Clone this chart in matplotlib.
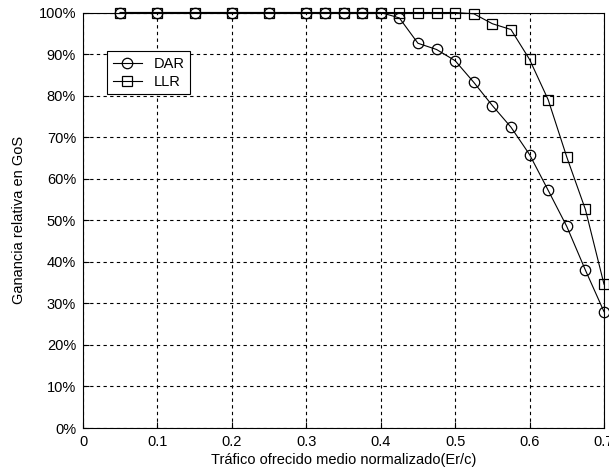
import matplotlib
matplotlib.use("Agg")
import matplotlib.pyplot as plt
from matplotlib.ticker import FuncFormatter

x = [0.05, 0.1, 0.15, 0.2, 0.25, 0.3, 0.325, 0.35, 0.375, 0.4, 0.425, 0.45,
     0.475, 0.5, 0.525, 0.55, 0.575, 0.6, 0.625, 0.65, 0.675, 0.7]
dar = [100, 100, 100, 100, 100, 100, 100, 100, 100, 100, 98.7, 92.6,
       91.1, 88.4, 83.2, 77.6, 72.4, 65.8, 57.2, 48.5, 38.0, 28.0]
llr = [100, 100, 100, 100, 100, 100, 100, 100, 100, 100, 100, 100,
       100, 100, 99.7, 97.3, 95.9, 88.7, 79.0, 65.2, 52.6, 34.6]

xticks = [0, 0.1, 0.2, 0.3, 0.4, 0.5, 0.6, 0.7]
yticks = list(range(0, 101, 10))

plt.rcParams['font.family'] = ['Liberation Sans', 'DejaVu Sans']
fig = plt.figure(figsize=(6.09, 4.72), dpi=100)
ax = fig.add_axes([0.1363, 0.0932, 0.8555, 0.8803])

ax.plot(x, dar, '-o', color='black', lw=0.8, ms=7.5, mfc='none', mec='black',
        mew=0.9, label='DAR', clip_on=False, zorder=3)
ax.plot(x, llr, '-s', color='black', lw=0.8, ms=7.5, mfc='none', mec='black',
        mew=0.9, label='LLR', clip_on=False, zorder=3)

ax.set_xlim(0, 0.7)
ax.set_ylim(0, 100)
ax.set_xticks(xticks)
ax.set_yticks(yticks)
ax.xaxis.set_major_formatter(FuncFormatter(lambda v, p: '0' if v == 0 else f'{v:g}'))
ax.yaxis.set_major_formatter(FuncFormatter(lambda v, p: f'{int(v)}%'))
ax.tick_params(direction='in', length=4, labelsize=10.5, width=0.8, pad=5)
ax.grid(True, color='black', linestyle=(0, (3, 3)), linewidth=0.8)
for s in ax.spines.values():
    s.set_linewidth(0.8)

ax.set_xlabel('Tráfico ofrecido medio normalizado(Er/c)', fontsize=10.5, labelpad=3)
ax.set_ylabel('Ganancia relativa en GoS', fontsize=10.5, labelpad=9)

leg = ax.legend(loc='upper left', bbox_to_anchor=(0.046, 0.907), borderaxespad=0,
                fancybox=False, edgecolor='black', framealpha=1, fontsize=10.5,
                handlelength=2.0, borderpad=0.4, labelspacing=0.25)
leg.get_frame().set_linewidth(0.8)

fig.savefig('out.png', dpi=100)
